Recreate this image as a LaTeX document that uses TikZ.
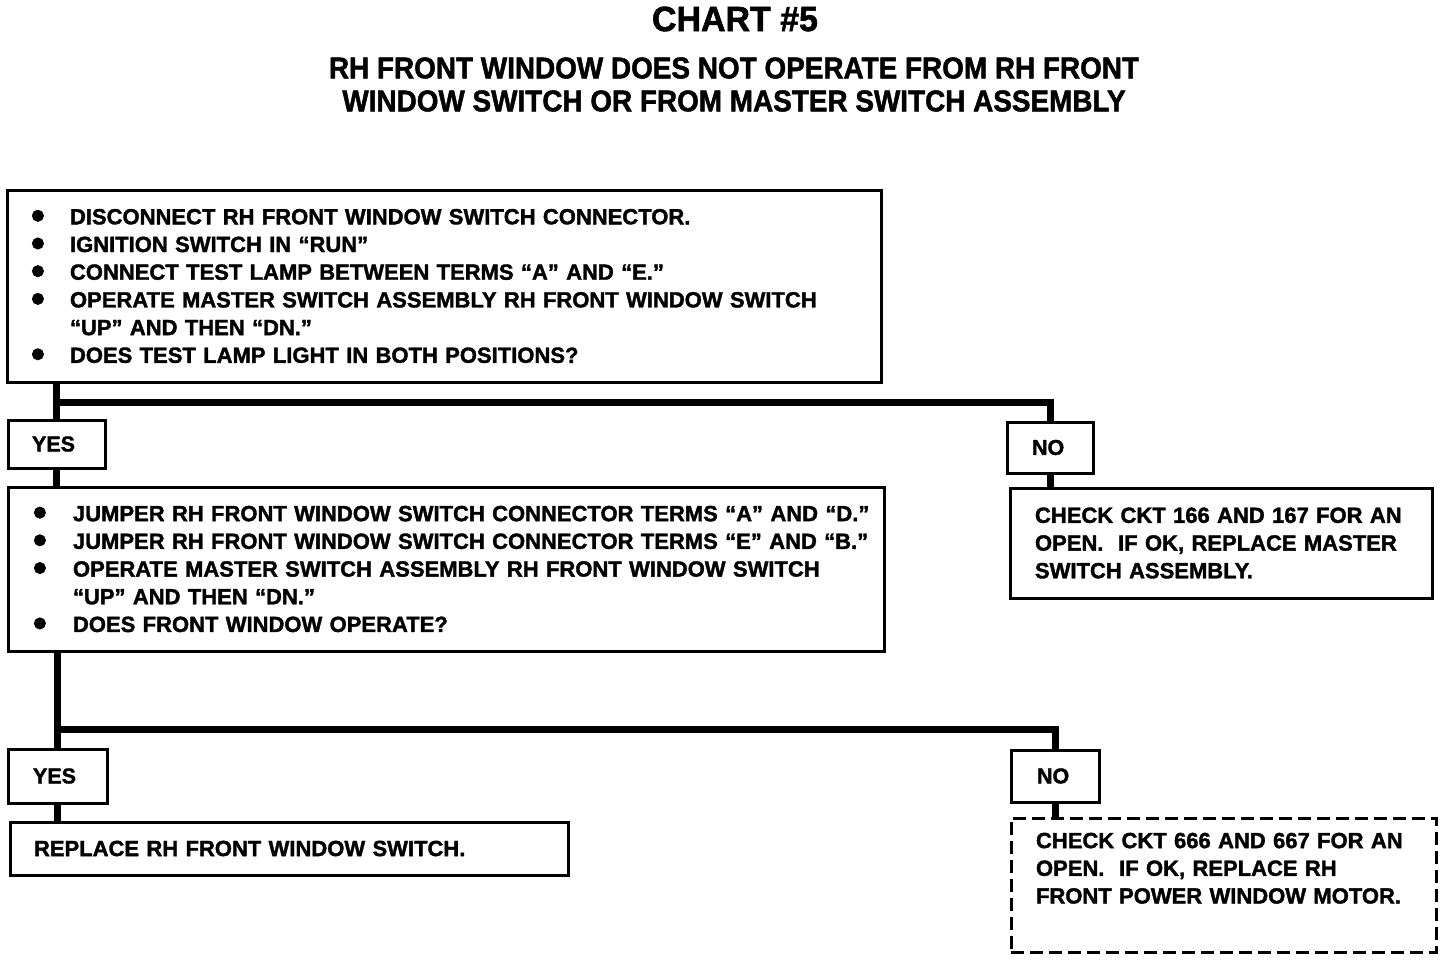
\documentclass[tikz,border=0pt]{standalone}
\usepackage{fontspec}
\setmainfont{Liberation Sans}[BoldFeatures={FakeBold=1.6}]
\usepackage{graphicx}
\newcommand\bul[1]{\makebox[#1][l]{\smash{\raisebox{-4.5pt}{\scalebox{1.8}{\textbullet}}}}}
\begin{document}
\begin{tikzpicture}[x=1pt,y=-1pt,
  box/.style={draw, line width=3pt, rectangle, anchor=north west, outer sep=0pt,
    align=left, inner ysep=0pt, font=\bfseries\fontsize{22}{27.7}\selectfont},
  lbl/.style={draw, line width=3pt, rectangle, anchor=north west, outer sep=0pt,
    align=left, inner ysep=0pt, font=\bfseries\fontsize{21.5}{26}\selectfont},
  conn/.style={line width=7pt},
  ttl/.style={font=\bfseries\fontsize{35}{40}\selectfont},
  sub/.style={font=\bfseries\fontsize{30}{34}\selectfont}]
\useasboundingbox (0,0) rectangle (1456,964);
\fill[white] (0,0) rectangle (1456,964);

% titles
\node[ttl] (title) at (735,19) {\scalebox{0.97}[1]{CHART \#5}};
\node[sub] (sub1) at (734,68) {\scalebox{0.93}[1]{RH FRONT WINDOW DOES NOT OPERATE FROM RH FRONT}};
\node[sub] (sub2) at (734,101) {\scalebox{0.93}[1]{WINDOW SWITCH OR FROM MASTER SWITCH ASSEMBLY}};

% boxes
\node[box, inner xsep=10pt, text width=854pt, minimum width=874pt, minimum height=192pt] (box1) at (7,190) {%
\hspace*{14pt}\bul{39pt}DISCONNECT RH FRONT WINDOW SWITCH CONNECTOR.\\
\hspace*{14pt}\bul{39pt}IGNITION SWITCH IN “RUN”\\
\hspace*{14pt}\bul{39pt}CONNECT TEST LAMP BETWEEN TERMS “A” AND “E.”\\
\hspace*{14pt}\bul{39pt}OPERATE MASTER SWITCH ASSEMBLY RH FRONT WINDOW SWITCH\\
\hspace*{53pt}“UP” AND THEN “DN.”\\
\hspace*{14pt}\bul{39pt}DOES TEST LAMP LIGHT IN BOTH POSITIONS?};

\node[lbl, inner xsep=24pt, text width=49pt, minimum width=97pt, minimum height=48pt] (yes1) at (8,420) {YES};
\node[lbl, inner xsep=25pt, text width=36pt, minimum width=86pt, minimum height=51pt] (no1) at (1007,422) {NO};

\node[box, inner xsep=10pt, text width=856pt, minimum width=876pt, minimum height=164pt] (box2) at (8,487) {%
\hspace*{15pt}\bul{40pt}JUMPER RH FRONT WINDOW SWITCH CONNECTOR TERMS “A” AND “D.”\\
\hspace*{15pt}\bul{40pt}JUMPER RH FRONT WINDOW SWITCH CONNECTOR TERMS “E” AND “B.”\\
\hspace*{15pt}\bul{40pt}OPERATE MASTER SWITCH ASSEMBLY RH FRONT WINDOW SWITCH\\
\hspace*{55pt}“UP” AND THEN “DN.”\\
\hspace*{15pt}\bul{40pt}DOES FRONT WINDOW OPERATE?};

\node[box, inner xsep=25pt, text width=372pt, minimum width=422pt, minimum height=110pt] (box3) at (1010,488) {%
CHECK CKT 166 AND 167 FOR AN\\
OPEN.\ \ IF OK, REPLACE MASTER\\
SWITCH ASSEMBLY.};

\node[lbl, inner xsep=25pt, text width=49pt, minimum width=99pt, minimum height=54pt] (yes2) at (8,749) {YES};
\node[lbl, inner xsep=26pt, text width=36pt, minimum width=88pt, minimum height=52pt] (no2) at (1011,750) {NO};

\node[box, inner xsep=24pt, text width=510pt, minimum width=558pt, minimum height=53pt] (box4) at (10,822) {%
REPLACE RH FRONT WINDOW SWITCH.};

\node[box, dash pattern=on 13pt off 6pt, inner xsep=25pt, text width=375pt, minimum width=425pt, minimum height=134pt] (box5) at (1011,818) {%
CHECK CKT 666 AND 667 FOR AN\\
OPEN.\ \ IF OK, REPLACE RH\\
FRONT POWER WINDOW MOTOR.\\[6pt]\mbox{}};

% connectors
\coordinate (j1) at (yes1.north |- 0,402);
\coordinate (j2) at (yes2.north |- 0,729);
\draw[conn] (box1.south -| yes1.north) -- (yes1.north);
\draw[conn] (j1) -| (no1.north);
\draw[conn] (yes1.south) -- (yes1.south |- box2.north);
\draw[conn] (no1.south) -- (no1.south |- box3.north);
\draw[conn] (box2.south -| yes2.north) -- (yes2.north);
\draw[conn] (j2) -| (no2.north);
\draw[conn] (yes2.south) -- (yes2.south |- box4.north);
\draw[conn] (no2.south) -- (no2.south |- box5.north);
\end{tikzpicture}
\end{document}
